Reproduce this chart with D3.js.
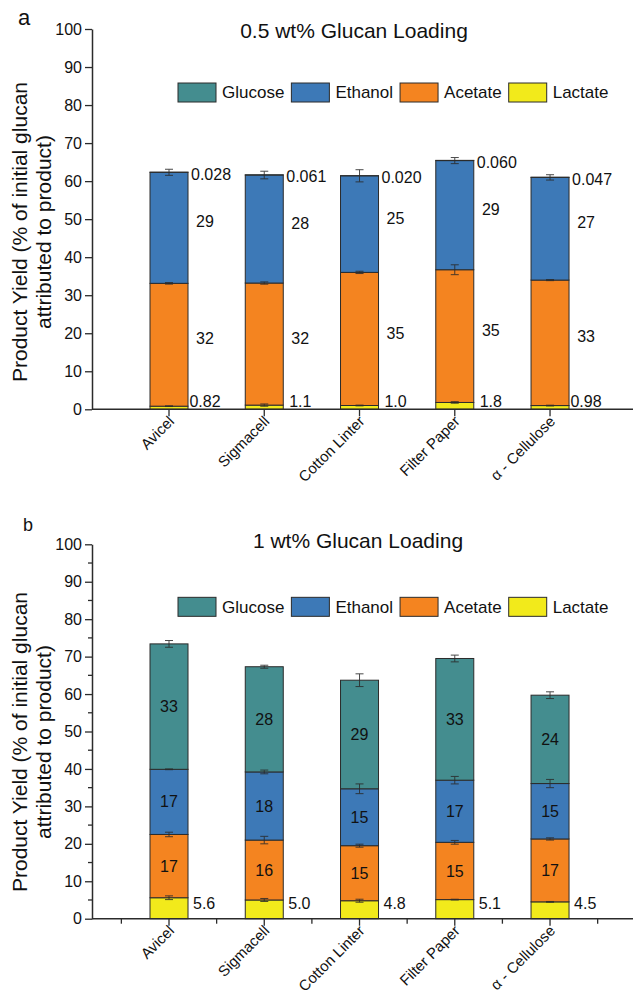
<!DOCTYPE html>
<html>
<head>
<meta charset="utf-8">
<script src="https://cdn.jsdelivr.net/npm/d3@7"></script>
<style>
  body { margin: 0; background: #fff; }
  svg { display: block; font-family: "Liberation Sans", Arial, sans-serif; }
</style>
</head>
<body>
<script>
const categories = ["Avicel", "Sigmacell", "Cotton Linter", "Filter Paper", "\u03B1 - Cellulose"];
const seriesNames = ["Glucose", "Ethanol", "Acetate", "Lactate"];
const stackOrder = ["Lactate", "Acetate", "Ethanol", "Glucose"];
const yTicks = [0, 10, 20, 30, 40, 50, 60, 70, 80, 90, 100];

// panel a: 0.5 wt% glucan loading
const lactateA = [0.82, 1.1, 1.0, 1.8, 0.98];
const acetateA = [32.3, 32.1, 35.0, 34.9, 33.0];
const ethanolA = [29.2, 28.4, 25.4, 28.7, 27.0];
const glucoseA = [0.028, 0.061, 0.020, 0.060, 0.047];
const errLactateA = [0.1, 0.3, 0.1, 0.2, 0.1];
const errAcetateA = [0.2, 0.3, 0.3, 1.3, 0.15];
const errEthanolA = [0.8, 1.0, 1.6, 0.8, 0.7];
const errGlucoseA = [0, 0, 0, 0, 0];
const lblLactateA = ["0.82", "1.1", "1.0", "1.8", "0.98"];
const lblAcetateA = ["32", "32", "35", "35", "33"];
const lblEthanolA = ["29", "28", "25", "29", "27"];
const lblGlucoseA = ["0.028", "0.061", "0.020", "0.060", "0.047"];

// panel b: 1 wt% glucan loading
const lactateB = [5.6, 5.0, 4.8, 5.1, 4.5];
const acetateB = [16.9, 16.0, 14.7, 15.3, 16.8];
const ethanolB = [17.4, 18.2, 15.2, 16.6, 14.8];
const glucoseB = [33.5, 28.1, 29.0, 32.5, 23.6];
const errLactateB = [0.5, 0.4, 0.4, 0.1, 0.1];
const errAcetateB = [0.6, 1.0, 0.4, 0.5, 0.3];
const errEthanolB = [0.1, 0.5, 1.3, 1.0, 1.1];
const errGlucoseB = [0.9, 0.4, 1.7, 0.9, 0.9];
const lblLactateB = ["5.6", "5.0", "4.8", "5.1", "4.5"];
const lblAcetateB = ["17", "16", "15", "15", "17"];
const lblEthanolB = ["17", "18", "15", "17", "15"];
const lblGlucoseB = ["33", "28", "29", "33", "24"];

const colors = { Glucose: "#448d8f", Ethanol: "#3d79b7", Acetate: "#f48420", Lactate: "#f2ea1b" };
const ink = "#2b2b2b";

const svg = d3.select("body").append("svg").attr("width", 633).attr("height", 997);

function rows(l, a, e, g) {
  return categories.map((c, i) => ({ cat: c, i: i, Lactate: l[i], Acetate: a[i], Ethanol: e[i], Glucose: g[i] }));
}

const panels = [
  {
    letter: "a", letterX: 18, letterY: 25, letterSize: 22,
    title: "0.5 wt% Glucan Loading", titleX: 354, titleY: 38,
    y0: 409.3, y1: 29, ytitleY: 232, minor: false, inside: false,
    data: rows(lactateA, acetateA, ethanolA, glucoseA),
    err: { Lactate: errLactateA, Acetate: errAcetateA, Ethanol: errEthanolA, Glucose: errGlucoseA },
    lbl: { Lactate: lblLactateA, Acetate: lblAcetateA, Ethanol: lblEthanolA, Glucose: lblGlucoseA },
  },
  {
    letter: "b", letterX: 23, letterY: 531, letterSize: 18,
    title: "1 wt% Glucan Loading", titleX: 358, titleY: 548,
    y0: 918.7, y1: 544.3, ytitleY: 742, minor: true, inside: true,
    data: rows(lactateB, acetateB, ethanolB, glucoseB),
    err: { Lactate: errLactateB, Acetate: errAcetateB, Ethanol: errEthanolB, Glucose: errGlucoseB },
    lbl: { Lactate: lblLactateB, Acetate: lblAcetateB, Ethanol: lblEthanolB, Glucose: lblGlucoseB },
  },
];

const x = d3.scaleLinear().domain([0.1916, 5.871]).range([92, 633]);
const barW = 38;

panels.forEach((p) => {
  const g = svg.append("g");
  const y = d3.scaleLinear().domain([0, 100]).range([p.y0, p.y1]);
  const stacked = d3.stack().keys(stackOrder)(p.data);

  // bars
  stacked.forEach((layer) => {
    g.append("g")
      .selectAll("rect")
      .data(layer)
      .join("rect")
      .attr("x", (d) => x(d.data.i + 1) - barW / 2)
      .attr("y", (d) => y(d[1]))
      .attr("width", barW)
      .attr("height", (d) => y(d[0]) - y(d[1]))
      .attr("fill", colors[layer.key])
      .attr("stroke", ink)
      .attr("stroke-width", 1);
  });

  // error bars at each segment top
  stacked.forEach((layer) => {
    const errs = p.err[layer.key];
    layer.forEach((d) => {
      const e = errs[d.data.i];
      if (!e) return;
      const cx = x(d.data.i + 1);
      const eg = g.append("g").attr("stroke", ink).attr("stroke-width", 1).attr("opacity", 0.85);
      eg.append("line").attr("x1", cx).attr("x2", cx).attr("y1", y(d[1] - e)).attr("y2", y(d[1] + e));
      [d[1] - e, d[1] + e].forEach((v) => {
        eg.append("line").attr("x1", cx - 4).attr("x2", cx + 4).attr("y1", y(v)).attr("y2", y(v));
      });
    });
  });

  // value labels
  stacked.forEach((layer) => {
    const labels = p.lbl[layer.key];
    layer.forEach((d) => {
      const i = d.data.i;
      const right = x(i + 1) + barW / 2;
      const t = g.append("text").attr("font-size", 16).attr("fill", "#111").attr("dy", "0.35em").text(labels[i]);
      if (layer.key === "Lactate") {
        if (p.inside) t.attr("x", right + 5).attr("y", y(0) - 15);
        else t.attr("x", right + 17).attr("y", y(0) - 8).attr("text-anchor", "middle");
      } else if (p.inside) {
        t.attr("x", x(i + 1)).attr("y", y((d[0] + d[1]) / 2)).attr("text-anchor", "middle");
      } else if (layer.key === "Glucose") {
        t.attr("x", right + 3).attr("y", y(d[1]) + 2);
      } else {
        t.attr("x", right + 17).attr("y", y((d[0] + d[1]) / 2) - 6).attr("text-anchor", "middle");
      }
    });
  });

  // y axis
  const yAxis = g.append("g")
    .attr("transform", `translate(${x.range()[0]},0)`)
    .call(d3.axisLeft(y).tickValues(yTicks).tickSize(7).tickSizeOuter(0).tickPadding(3));
  yAxis.select(".domain").attr("stroke", ink).attr("stroke-width", 1.5);
  yAxis.selectAll(".tick line").attr("stroke", ink).attr("stroke-width", 1.3);
  yAxis.selectAll(".tick text").attr("font-size", 16).attr("font-family", "Liberation Sans, Arial, sans-serif").attr("fill", "#111");
  if (p.minor) {
    yAxis.selectAll(".minor")
      .data(d3.range(5, 100, 10))
      .join("line")
      .attr("x1", 0).attr("x2", -4)
      .attr("y1", (d) => y(d)).attr("y2", (d) => y(d))
      .attr("stroke", ink).attr("stroke-width", 1.3);
  }

  // x axis
  const xAxis = g.append("g").attr("transform", `translate(0,${y(0)})`);
  xAxis.append("line").attr("x1", x.range()[0]).attr("x2", x.range()[1]).attr("stroke", ink).attr("stroke-width", 1.5);
  categories.forEach((c, i) => {
    const cx = x(i + 1);
    xAxis.append("line").attr("x1", cx).attr("x2", cx).attr("y1", 0).attr("y2", 7).attr("stroke", ink).attr("stroke-width", 1.3);
    xAxis.append("text")
      .attr("transform", `translate(${cx + 6},${13}) rotate(-45)`)
      .attr("text-anchor", "end")
      .attr("font-size", 15)
      .attr("fill", "#111")
      .text(c);
  });
  if (p.minor) {
    d3.range(0.5, 6, 1).forEach((v) => {
      xAxis.append("line").attr("x1", x(v)).attr("x2", x(v)).attr("y1", 0).attr("y2", 5).attr("stroke", ink).attr("stroke-width", 1.3);
    });
  }

  // y axis title
  const yt = g.append("text")
    .attr("transform", `translate(27,${p.ytitleY}) rotate(-90)`)
    .attr("text-anchor", "middle")
    .attr("font-size", 21)
    .attr("fill", "#111");
  yt.append("tspan").attr("x", 0).attr("dy", 0).text("Product Yield (% of initial glucan");
  yt.append("tspan").attr("x", 0).attr("dy", 24).text("attributed to product)");

  // title and panel letter
  g.append("text").attr("x", p.titleX).attr("y", p.titleY).attr("text-anchor", "middle")
    .attr("font-size", 21).attr("fill", "#111").text(p.title);
  g.append("text").attr("x", p.letterX).attr("y", p.letterY)
    .attr("font-size", p.letterSize).attr("fill", "#111").text(p.letter);

  // legend
  const ly = y(83.3);
  let lx = 178;
  seriesNames.forEach((s) => {
    g.append("rect").attr("x", lx).attr("y", ly - 9.5).attr("width", 38).attr("height", 19)
      .attr("fill", colors[s]).attr("stroke", ink).attr("stroke-width", 1);
    const t = g.append("text").attr("x", lx + 44).attr("y", ly).attr("dy", "0.35em")
      .attr("font-size", 17).attr("fill", "#111").text(s);
    lx += 44 + t.node().getComputedTextLength() + 7;
  });
});
</script>
</body>
</html>
